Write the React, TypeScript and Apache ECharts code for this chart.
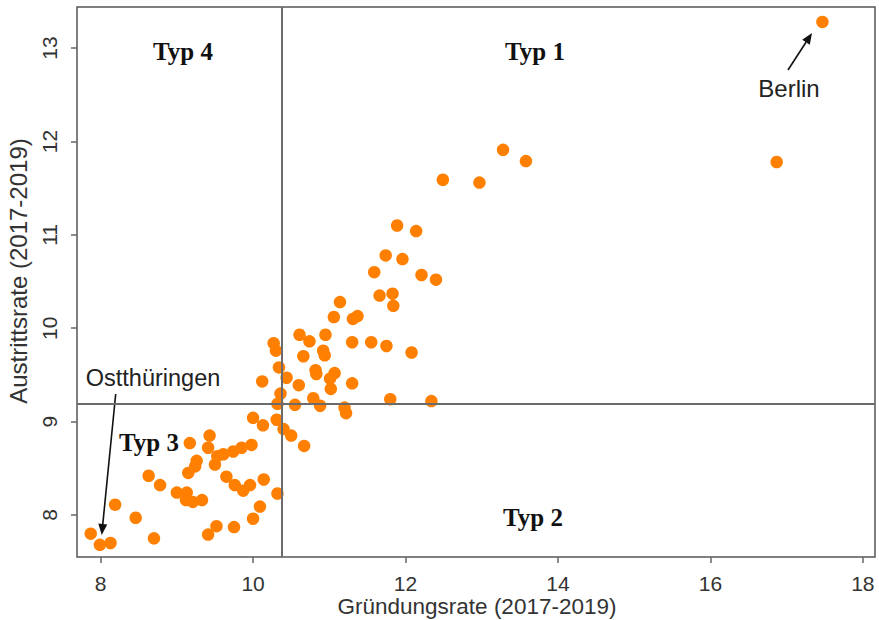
import React, { useEffect, useRef } from "react";
import * as echarts from "echarts";

// Gründungsrate (x) and Austrittsrate (y) per region
const gruendungsrate = [
  17.47, 13.28, 13.58, 12.49, 12.97, 16.87, 11.89, 12.14, 11.74, 11.96,
  11.59, 12.21, 12.4, 11.66, 11.83, 11.84, 11.14, 11.06, 11.31, 11.37,
  10.61, 10.74, 10.95, 11.3, 11.55, 11.75, 12.08, 10.27, 10.3, 10.66,
  10.92, 10.94, 10.34, 10.82, 10.83, 11.07, 11.01, 10.44, 10.12, 10.6,
  11.3, 11.02, 10.36, 10.32, 10.55, 10.79, 10.88, 11.2, 11.22, 11.8,
  12.34, 10.0, 10.13, 10.31, 10.4, 10.5, 10.67, 9.43, 9.41, 9.17,
  9.98, 9.85, 9.74, 9.61, 9.53, 9.5, 9.26, 9.24, 9.15, 8.63,
  8.78, 9.65, 9.76, 9.87, 9.96, 10.14, 10.32, 9.0, 9.13, 9.12,
  9.21, 9.33, 8.19, 8.46, 10.09, 10.0, 9.52, 9.41, 9.75, 8.7,
  7.87, 7.99, 8.13,
];
const austrittsrate = [
  13.28, 11.91, 11.79, 11.59, 11.56, 11.78, 11.1, 11.04, 10.78, 10.74,
  10.6, 10.57, 10.52, 10.35, 10.37, 10.24, 10.28, 10.12, 10.1, 10.13,
  9.93, 9.86, 9.93, 9.85, 9.85, 9.81, 9.74, 9.84, 9.76, 9.7,
  9.76, 9.71, 9.58, 9.55, 9.51, 9.52, 9.46, 9.47, 9.43, 9.39,
  9.41, 9.35, 9.3, 9.19, 9.18, 9.25, 9.17, 9.15, 9.09, 9.24,
  9.22, 9.04, 8.96, 9.02, 8.92, 8.85, 8.74, 8.85, 8.72, 8.77,
  8.75, 8.72, 8.68, 8.65, 8.63, 8.54, 8.58, 8.52, 8.45, 8.42,
  8.32, 8.41, 8.32, 8.26, 8.32, 8.38, 8.23, 8.24, 8.24, 8.16,
  8.14, 8.16, 8.11, 7.97, 8.09, 7.96, 7.88, 7.79, 7.87, 7.75,
  7.8, 7.68, 7.7,
];

const xTicks = [8, 10, 12, 14, 16, 18];
const yTicks = [8, 9, 10, 11, 12, 13];
const thresholdX = 10.38;
const thresholdY = 9.19;

const xTitle = "Gründungsrate (2017-2019)";
const yTitle = "Austrittsrate (2017-2019)";

const SANS = "'Liberation Sans', Arial, sans-serif";
const SERIF = "'Liberation Serif', 'Times New Roman', serif";

function arrow(x1: number, y1: number, x2: number, y2: number) {
  const a = Math.atan2(y2 - y1, x2 - x1);
  const L = 11;
  const W = 4.5;
  const bx = x2 - L * Math.cos(a);
  const by = y2 - L * Math.sin(a);
  const px = -Math.sin(a);
  const py = Math.cos(a);
  return [
    {
      type: "line",
      shape: { x1, y1, x2: bx, y2: by },
      style: { stroke: "#111", lineWidth: 1.6 },
      silent: true,
    },
    {
      type: "polygon",
      shape: {
        points: [
          [x2, y2],
          [bx + W * px, by + W * py],
          [bx - W * px, by - W * py],
        ],
      },
      style: { fill: "#111" },
      silent: true,
    },
  ];
}

function typLabel(text: string, x: number, y: number) {
  return {
    type: "text",
    x,
    y,
    silent: true,
    style: {
      text,
      fontFamily: SERIF,
      fontWeight: "bold",
      fontSize: 25,
      fill: "#111",
      align: "center",
      verticalAlign: "middle",
    },
  };
}

function plainLabel(text: string, x: number, y: number, size: number, fill = "#222", rotation = 0) {
  return {
    type: "text",
    x,
    y,
    rotation,
    silent: true,
    style: {
      text,
      fontFamily: SANS,
      fontSize: size,
      fill,
      align: "center",
      verticalAlign: "middle",
    },
  };
}

export default function App() {
  const ref = useRef<HTMLDivElement>(null);

  useEffect(() => {
    if (!ref.current) return;
    const chart = echarts.init(ref.current, null, { renderer: "svg" });
    const data = gruendungsrate.map((x, i) => [x, austrittsrate[i]]);

    chart.setOption({
      animation: false,
      backgroundColor: "#ffffff",
      grid: {
        left: 77,
        right: 4,
        top: 7,
        bottom: 63,
        show: true,
        borderColor: "#555",
        borderWidth: 1.5,
        backgroundColor: "transparent",
        containLabel: false,
        outerBoundsMode: "none",
      },
      xAxis: {
        type: "value",
        min: 7.69,
        max: 18.16,
        splitLine: { show: false },
        axisLine: { show: false },
        axisTick: {
          show: true,
          customValues: xTicks,
          length: 6,
          lineStyle: { color: "#666", width: 1.5 },
        },
        axisLabel: {
          customValues: xTicks,
          fontFamily: SANS,
          fontSize: 21,
          color: "#333",
          margin: 16,
        },
      },
      yAxis: {
        type: "value",
        min: 7.55,
        max: 13.44,
        splitLine: { show: false },
        axisLine: { show: false },
        axisTick: {
          show: true,
          customValues: yTicks,
          length: 6,
          lineStyle: { color: "#666", width: 1.5 },
        },
        axisLabel: {
          customValues: yTicks,
          rotate: 90,
          fontFamily: SANS,
          fontSize: 21,
          color: "#333",
          margin: 17,
        },
      },
      series: [
        {
          type: "scatter",
          data,
          symbol: "circle",
          symbolSize: 12.5,
          itemStyle: { color: "#FF8000", opacity: 1 },
          silent: true,
          markLine: {
            silent: true,
            symbol: ["none", "none"],
            label: { show: false },
            lineStyle: { color: "#6b6b6b", width: 2, type: "solid" },
            data: [{ xAxis: thresholdX }, { yAxis: thresholdY }],
          },
        },
      ],
      graphic: [
        plainLabel(yTitle, 18, 271, 24, "#333", Math.PI / 2),
        plainLabel(xTitle, 477, 606, 22.5, "#333"),
        typLabel("Typ 4", 183, 51),
        typLabel("Typ 1", 535, 51),
        typLabel("Typ 3", 149, 442),
        typLabel("Typ 2", 533, 517),
        plainLabel("Berlin", 789, 88, 24),
        plainLabel("Ostthüringen", 153, 378, 23.5),
        ...arrow(788, 70, 812, 33),
        ...arrow(115.7, 394, 101.7, 535),
      ],
    });

    return () => chart.dispose();
  }, []);

  return (
    <div
      ref={ref}
      style={{ position: "fixed", left: 0, top: 0, width: 879, height: 620 }}
    />
  );
}
